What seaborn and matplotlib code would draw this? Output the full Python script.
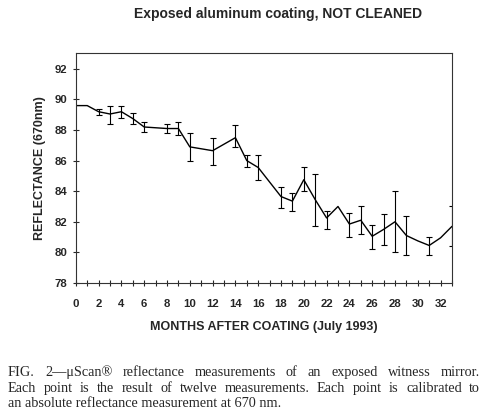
import numpy as np
import pandas as pd
import matplotlib
matplotlib.use("Agg")
import matplotlib.pyplot as plt
import seaborn as sns

# data (nan = no error bar drawn)
months = [0, 1, 2, 3, 4, 5, 6, 8, 9, 10, 12, 14, 15, 16, 17, 18, 19, 20, 21,
          22, 23, 24, 25, 26, 27, 28, 29, 30, 31, 32, 33]
reflectance = [89.6, 89.6, 89.2, 89.05, 89.2, 88.75, 88.2, 88.1, 88.1, 86.9,
               86.65, 87.5, 86.0, 85.55, 84.6, 83.65, 83.35, 84.75, 83.45,
               82.25, 83.0, 81.85, 82.1, 81.05, 81.5, 82.0, 81.1, 80.75,
               80.45, 80.95, 81.7]
err_low = [np.nan, np.nan, 89.0, 88.4, 88.8, 88.4, 87.85, 87.8, 87.7, 86.0,
           85.7, 86.9, 85.6, 84.7, np.nan, 82.9, 82.7, 84.0, 81.7,
           81.5, np.nan, 81.0, 81.2, 80.2, 80.5, 80.0, 79.8, np.nan,
           79.8, np.nan, 80.4]
err_high = [np.nan, np.nan, 89.35, 89.6, 89.6, 89.1, 88.5, 88.4, 88.55, 87.8,
            87.5, 88.3, 86.4, 86.4, np.nan, 84.3, 83.9, 85.6, 85.1,
            82.7, np.nan, 82.6, 83.0, 81.8, 82.5, 84.0, 82.4, np.nan,
            81.0, np.nan, 83.0]

df = pd.DataFrame({"month": months, "refl": reflectance,
                   "lo": err_low, "hi": err_high})

sns.set_style("ticks")
plt.rcParams['font.family'] = ['Liberation Sans', 'DejaVu Sans']

fig = plt.figure(figsize=(4.86, 4.13), dpi=100)
ax = fig.add_axes([0.156, 0.315, 0.774, 0.557])

sns.lineplot(data=df, x="month", y="refl", color="black", linewidth=1.0, ax=ax)

eb = df.dropna()
ax.errorbar(eb["month"], eb["refl"],
            yerr=[eb["refl"] - eb["lo"], eb["hi"] - eb["refl"]],
            fmt="none", ecolor="black", elinewidth=0.8, capsize=2, capthick=0.8)

ax.set_xlim(0, 33)
ax.set_ylim(78, 93.05)
ax.set_xticks(range(0, 33, 2))
ax.set_xticks(range(0, 34), minor=True)
ax.set_yticks(range(78, 93, 2))
ax.tick_params(axis="both", which="both", direction="inout", length=5, width=0.8,
               labelsize=8.2)
ax.tick_params(axis="x", which="major", pad=9)
for lab in ax.get_xticklabels() + ax.get_yticklabels():
    lab.set_fontweight("bold")
for sp in ax.spines.values():
    sp.set_visible(True)
    sp.set_linewidth(0.8)
    sp.set_color("#333333")

ax.set_xlabel("MONTHS AFTER COATING (July 1993)", fontsize=9, fontweight="bold",
              labelpad=9)
ax.set_ylabel("REFLECTANCE (670nm)", fontsize=9, fontweight="bold", labelpad=6)

fig.text(0.572, 0.965, "Exposed aluminum coating, NOT CLEANED", ha="center",
         va="center", fontsize=10, fontweight="bold")

cap = ["FIG. 2\u2014\u03bcScan\u00ae reflectance measurements of an exposed witness mirror.",
       "Each point is the result of twelve measurements. Each point is calibrated to",
       "an absolute reflectance measurement at 670 nm."]

# caption, first two lines justified between x0 and x1 (pixels)
x0, x1 = 8, 480
fs = 10.3
fig.canvas.draw()
rend = fig.canvas.get_renderer()
W = fig.bbox.width
for i, line in enumerate(cap):
    y = 0.089 - i * 0.0375
    if i == len(cap) - 1:
        fig.text(x0 / W, y, line, ha="left", va="baseline", fontsize=fs,
                 family="Liberation Serif")
        continue
    words = line.split(" ")
    texts = [fig.text(0, y, w, ha="left", va="baseline", fontsize=fs,
                      family="Liberation Serif") for w in words]
    widths = [t.get_window_extent(rend).width for t in texts]
    gap = (x1 - x0 - sum(widths)) / (len(words) - 1)
    x = x0
    for t, w in zip(texts, widths):
        t.set_x(x / W)
        x += w + gap

fig.savefig("out.png", dpi=100)
